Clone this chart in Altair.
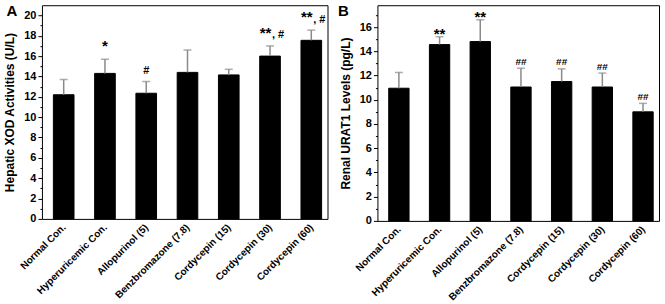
import altair as alt
import pandas as pd

FONT = "Liberation Sans"

groups = ["Normal Con.", "Hyperuricemic Con.", "Allopurinol (5)", "Benzbromazone (7.8)",
          "Cordycepin (15)", "Cordycepin (30)", "Cordycepin (60)"]

# Panel A: hepatic XOD activities (U/L)
xod_mean = [12.2, 14.3, 12.35, 14.4, 14.15, 16.0, 17.55]
xod_upper = [13.7, 15.7, 13.5, 16.6, 14.7, 17.0, 18.55]
xod_stars = ["", "*", "", "", "", "**", "**"]
xod_hash = ["", "", "#", "", "", "#", "#"]
xod_ticks = list(range(0, 21))

# Panel B: renal URAT1 levels (pg/L)
urat_mean = [10.95, 14.55, 14.8, 11.05, 11.5, 11.05, 9.0]
urat_upper = [12.25, 15.2, 16.6, 12.6, 12.55, 12.2, 9.7]
urat_stars = ["", "**", "**", "", "", "", ""]
urat_hash = ["", "", "", "##", "##", "##", "##"]
urat_ticks = list(range(0, 18))

ERR = "#8a8a8a"


def panel(mean, upper, stars, hashes, letter, title, ymax, ticks, w, h,
          star_dy, hash_dy, hash_size, letter_x):
    df = pd.DataFrame({"group": groups, "mean": mean, "upper": upper,
                       "stars": stars, "hash": hashes})
    df["combo"] = [", " + hh if (s and hh) else "" for s, hh in zip(stars, hashes)]
    xscale = alt.Scale(paddingInner=0.5, paddingOuter=0.21, align=0.66)
    xaxis = alt.Axis(labelAngle=-45, labelAlign="right", labelBaseline="top",
                     ticks=False, domain=False, labelFont=FONT, labelFontWeight="bold",
                     labelFontSize=10, labelColor="black", labelPadding=3,
                     labelOffset=-3, labelOverlap=False, labelBound=False)
    yscale = alt.Scale(domain=[0, ymax], nice=False, zero=True)
    yaxis = alt.Axis(values=ticks,
                     labelExpr="datum.value % 2 === 0 ? datum.label : ''",
                     labelOverlap=False,
                     tickSize={"condition": {"test": "datum.value % 2 === 0", "value": 4},
                               "value": 2},
                     tickColor="black", grid=False, domain=False,
                     labelFont=FONT, labelFontWeight="bold", labelFontSize=11,
                     labelColor="black", labelPadding=2,
                     titleFont=FONT, titleFontWeight="bold", titleFontSize=12,
                     titleColor="black", titlePadding=7)

    def X():
        return alt.X("group:N", sort=groups, title=None, scale=xscale, axis=xaxis)

    def Y(field):
        return alt.Y(field, scale=yscale, title=title, axis=yaxis)

    base = alt.Chart(df)
    bars = base.mark_bar(color="black", stroke="black").encode(x=X(), y=Y("mean:Q"))
    rule = base.mark_rule(color=ERR, strokeWidth=1.5).encode(
        x=X(), y=Y("mean:Q"), y2="upper:Q")
    cap = base.mark_tick(color=ERR, size=8, thickness=1.5).encode(x=X(), y=Y("upper:Q"))
    star_only = base.transform_filter("datum.stars != '' && datum.hash == ''").mark_text(
        font=FONT, fontWeight="bold", fontSize=15, baseline="alphabetic", dy=star_dy,
        color="black"
    ).encode(x=X(), y=Y("upper:Q"), text="stars:N")
    hash_only = base.transform_filter("datum.hash != '' && datum.stars == ''").mark_text(
        font=FONT, fontWeight="bold", fontSize=hash_size, baseline="alphabetic", dy=hash_dy,
        color="black"
    ).encode(x=X(), y=Y("upper:Q"), text="hash:N")
    combo_star = base.transform_filter("datum.combo != ''").mark_text(
        font=FONT, fontWeight="bold", fontSize=15, baseline="alphabetic", dy=star_dy, dx=-4.5,
        color="black"
    ).encode(x=X(), y=Y("upper:Q"), text="stars:N")
    combo_hash = base.transform_filter("datum.combo != ''").mark_text(
        font=FONT, fontWeight="bold", fontSize=hash_size, baseline="alphabetic", dy=hash_dy,
        dx=8, color="black"
    ).encode(x=X(), y=Y("upper:Q"), text="combo:N")
    lab = alt.Chart(pd.DataFrame({"panel": [letter]})).mark_text(
        font=FONT, fontWeight="bold", fontSize=15, baseline="middle", align="center",
        color="black"
    ).encode(text="panel:N", x=alt.value(letter_x), y=alt.value(6))
    return alt.layer(bars, rule, cap, star_only, hash_only, combo_star, combo_hash, lab
                     ).properties(width=w, height=h)


a = panel(xod_mean, xod_upper, xod_stars, xod_hash, "A", "Hepatic XOD Activities (U/L)",
          21, xod_ticks, 286, 214, -8, -7.5, 11, -30)
b = panel(urat_mean, urat_upper, urat_stars, urat_hash, "B", "Renal URAT1 Levels (pg/L)",
          17.8, urat_ticks, 282, 216, 2, -3.5, 10, -34)

chart = alt.hconcat(a, b, spacing=9).properties(
    padding={"left": 3, "top": 3, "right": 5, "bottom": 2}
).configure_view(stroke="black", strokeWidth=1)

chart.save("out.html", embed_options={"renderer": "svg", "actions": False})
